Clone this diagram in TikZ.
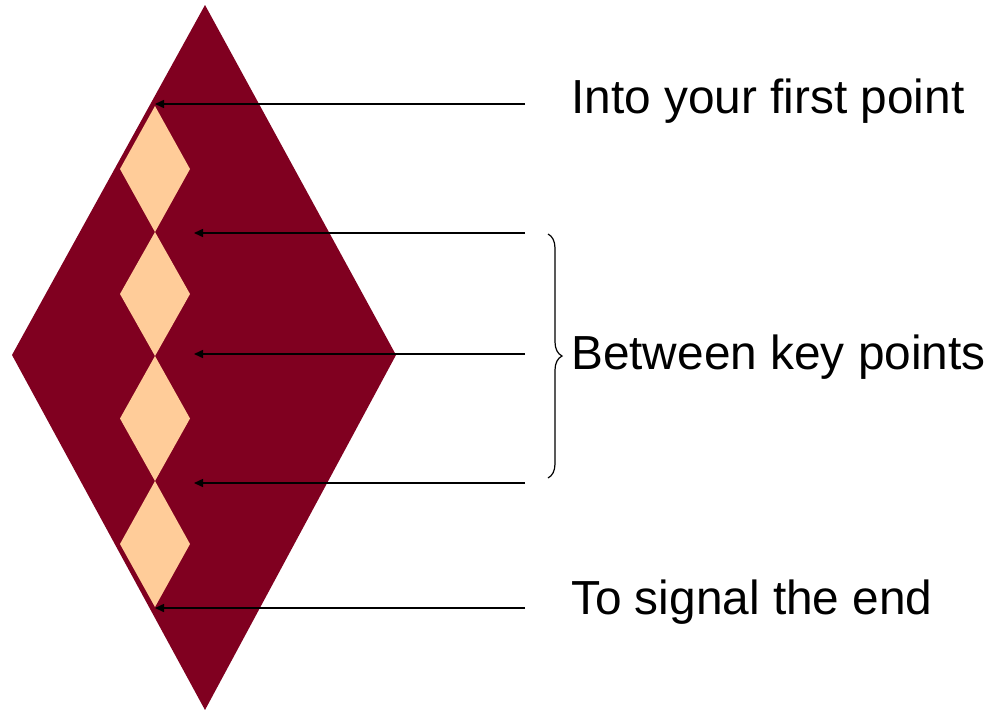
\documentclass[tikz,border=0pt]{standalone}
\usepackage{fontspec}
\setmainfont{Liberation Sans}
\usetikzlibrary{arrows.meta,decorations.pathreplacing}
\definecolor{maroon}{HTML}{800020}
\definecolor{peach}{HTML}{FFCC99}
\tikzset{
  bigdiamond/.style={fill=maroon, draw=none},
  smalldiamond/.style={fill=peach, draw=none},
  pointer/.style={draw=black, line width=1.5pt, -{Triangle[length=9pt,width=8pt]}},
  label/.style={anchor=base west, inner sep=0pt, font=\fontsize{47.8}{56}\selectfont},
  bracestyle/.style={draw=black, line width=1.2pt, decorate, decoration={brace, amplitude=14pt}}
}
\begin{document}
\begin{tikzpicture}[x=1pt,y=-1pt]
\useasboundingbox (0,0) rectangle (997,710);
% big diamond
\fill[bigdiamond] (205,5) -- (396,355) -- (205,710) -- (12,355) -- cycle;
% small diamonds
\foreach \t/\b in {106/232, 232/356, 356/481, 481/607}{
  \pgfmathsetmacro{\m}{(\t+\b)/2}
  \fill[smalldiamond] (155,\t) -- (190,\m) -- (155,\b) -- (120,\m) -- cycle;
}
% coordinates
\coordinate (s1) at (525,104);
\coordinate (e1) at (155,104);
\coordinate (s2) at (525,233);
\coordinate (e2) at (194,233);
\coordinate (s3) at (525,354);
\coordinate (e3) at (194,354);
\coordinate (s4) at (525,483);
\coordinate (e4) at (194,483);
\coordinate (s5) at (525,608);
\coordinate (e5) at (155,608);
\draw[pointer] (s1) -- (e1);
\draw[pointer] (s2) -- (e2);
\draw[pointer] (s3) -- (e3);
\draw[pointer] (s4) -- (e4);
\draw[pointer] (s5) -- (e5);
% brace
\coordinate (bt) at (548,234);
\coordinate (bb) at (548,478);
\draw[bracestyle] (bt) -- (bb);
% labels
\node[label] (l1) at (571,113) {Into your first point};
\node[label] (l2) at (571,369) {Between key points};
\node[label] (l3) at (571,614) {To signal the end};
\end{tikzpicture}
\end{document}
